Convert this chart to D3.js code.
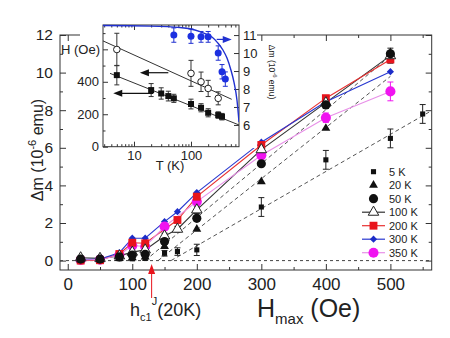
<!DOCTYPE html>
<html><head><meta charset="utf-8">
<script src="https://cdn.jsdelivr.net/npm/d3@7/dist/d3.min.js"></script>
<style>
body{margin:0;background:#fff}
svg{display:block}
text{font-family:"Liberation Sans",Arial,sans-serif;fill:#222}
</style>
</head><body>
<svg id="c" width="450" height="338"></svg>
<script>
// ---------- data (main panel) ----------
const Hmax = [20, 50, 80, 100, 120, 150, 170, 200, 300, 400, 500, 550];
const seriesNames = ["5 K", "20 K", "50 K", "100 K", "200 K", "300 K", "350 K"];
const dm5K   = [0.05, 0.05, 0.10, 0.10, 0.12, 0.39, 0.48, 0.57, 2.85, 5.36, 6.50, 7.80];
const dm20K  = [0.05, 0.05, 0.12, 0.15, 0.20, 0.75, null, 1.67, 4.20, 7.04, 11.06, null];
const dm50K  = [0.08, 0.08, 0.20, 0.30, 0.34, 1.01, null, 2.25, 5.15, 8.28, 11.00, null];
const dm100K = [0.15, 0.12, 0.25, 0.45, 0.57, 1.31, 1.67, 2.70, 5.90, 8.40, 10.90, null];
const dm200K = [0.00, 0.02, 0.35, 0.95, 0.92, null, 2.16, 3.40, 6.15, 8.64, 10.70, null];
const dm300K = [0.05, 0.08, 0.42, 1.19, 1.19, 2.07, 2.60, 3.62, 6.30, 8.45, 10.05, null];
const dm350K = [0.03, 0.05, 0.30, 0.80, 0.75, 1.81, null, 3.14, 5.60, 7.60, 9.00, null];
const err5K   = [0.10, 0.10, 0.10, 0.10, 0.10, 0.15, 0.20, 0.30, 0.50, 0.50, 0.50, 0.50];
const err350K = [0.10, 0.10, 0.10, 0.10, 0.10, 0.10, 0, 0.15, 0.20, 0.25, 0.50, 0];
const err100K = [0.10, 0.10, 0.10, 0.10, 0.15, 0.15, 0.15, 0.20, 0.25, 0.30, 0.40, 0];
const xTicks = [0, 100, 200, 300, 400, 500];
const xMinor = [50, 150, 250, 350, 450, 550];
const yTicks = [0, 2, 4, 6, 8, 10, 12];
const yMinor = [1, 3, 5, 7, 9, 11];
// dashed linear guides: start field (Δm = 0), end field, end Δm
const fitStartH = [160, 140, 120];
const fitEndH   = [560, 500, 490];
const fitEndDm  = [7.9, 9.8, 10.6];
const hc1J20K = 130;

// ---------- data (inset) ----------
const insT_open = [5, 100, 150, 200, 300];
const insH_open = [599, 452, 400, 359, 298];
const insE_open = [100, 80, 60, 50, 40];
const insT_sq = [5, 20, 30, 40, 50, 100, 150, 200, 300, 350];
const insH_sq = [441, 349, 328, 312, 298, 263, 240, 209, 195, 185];
const insE_sq = [60, 40, 35, 30, 25, 30, 25, 25, 20, 20];
const insT_blue = [50, 100, 150, 200, 300, 350, 400];
const insDm_blue = [11.0, 10.94, 10.9, 10.9, 10.0, 8.96, 8.55];
const insE_blue = [0.4, 0.4, 0.3, 0.3, 0.4, 0.4, 0.4];
const fitUpperT = [2.86, 518], fitUpperH = [652, 292];
const fitLowerT = [3.8, 695],  fitLowerH = [452, 134];
const curveT  = [2.86, 19, 64, 117, 176, 233, 297, 363, 428, 501, 566, 640, 695];
const curveDm = [11.53, 11.5, 11.42, 11.28, 11.08, 10.89, 10.55, 10.17, 9.72, 9.06, 8.39, 7.39, 6.17];
const insXTicks = [10, 100];
const insXMinor = [3,4,5,6,7,8,9,20,30,40,50,60,70,80,90,200,300,400,500,600];
const insLTicks = [0, 200, 400, 600];
const insLMinor = [100, 300, 500, 700];
const insRTicks = [6, 7, 8, 9, 10, 11];

// ---------- styles ----------
const style = {
  "5 K":   {sym: d3.symbolSquare,   size: 26, fill: "#111", stroke: "none", line: null},
  "20 K":  {sym: d3.symbolTriangle, size: 34, fill: "#111", stroke: "none", line: null},
  "50 K":  {sym: d3.symbolCircle,   size: 66, fill: "#111", stroke: "none", line: null},
  "100 K": {sym: d3.symbolTriangle, size: 48, fill: "#fff", stroke: "#222", line: "#333"},
  "200 K": {sym: d3.symbolSquare,   size: 62, fill: "#e8141c", stroke: "none", line: "#e83030"},
  "300 K": {sym: d3.symbolSquare,   size: 26, fill: "#1c2cc8", stroke: "none", line: "#2838d0", rot: 45},
  "350 K": {sym: d3.symbolCircle,   size: 80, fill: "#f014f0", stroke: "none", line: "#e890e8"}
};
const values = {"5 K": dm5K, "20 K": dm20K, "50 K": dm50K, "100 K": dm100K, "200 K": dm200K, "300 K": dm300K, "350 K": dm350K};
const errs = {"5 K": err5K, "100 K": err100K, "350 K": err350K};

const FONT = '"Liberation Sans",Arial,sans-serif';
const svg = d3.select("#c");
const x = d3.scaleLinear().domain([-12, 564]).range([60, 431.7]);
const y = d3.scaleLinear().domain([-0.5, 12]).range([270, 35]);
const X0 = x.range()[0], X1 = x.range()[1], Y0 = y.range()[0], Y1 = y.range()[1];

function styleAxis(g, fs) {
  g.select(".domain").remove();
  g.attr("font-family", FONT).attr("font-size", fs).attr("color", "#222");
  g.selectAll("line").attr("stroke", "#333");
}
// main axes
svg.append("g").attr("transform", `translate(0,${Y0})`)
  .call(d3.axisBottom(x).tickValues(xTicks).tickSize(-6).tickPadding(8).tickFormat(d3.format("d"))).call(g => styleAxis(g, 17));
svg.append("g").attr("transform", `translate(0,${Y0})`)
  .call(d3.axisBottom(x).tickValues(xMinor).tickSize(-3).tickFormat("")).call(g => styleAxis(g, 10));
svg.append("g").attr("transform", `translate(0,${Y1})`)
  .call(d3.axisTop(x).tickValues(xTicks).tickSize(-6).tickFormat("")).call(g => styleAxis(g, 10));
svg.append("g").attr("transform", `translate(0,${Y1})`)
  .call(d3.axisTop(x).tickValues(xMinor).tickSize(-3).tickFormat("")).call(g => styleAxis(g, 10));
svg.append("g").attr("transform", `translate(${X0},0)`)
  .call(d3.axisLeft(y).tickValues(yTicks).tickSize(-6).tickPadding(7).tickFormat(d3.format("d"))).call(g => styleAxis(g, 15.5));
svg.append("g").attr("transform", `translate(${X0},0)`)
  .call(d3.axisLeft(y).tickValues(yMinor).tickSize(-3).tickFormat("")).call(g => styleAxis(g, 10));
svg.append("g").attr("transform", `translate(${X1},0)`)
  .call(d3.axisRight(y).tickValues(yTicks).tickSize(-6).tickFormat("")).call(g => styleAxis(g, 10));
svg.append("g").attr("transform", `translate(${X1},0)`)
  .call(d3.axisRight(y).tickValues(yMinor).tickSize(-3).tickFormat("")).call(g => styleAxis(g, 10));
svg.append("rect").attr("x", X0).attr("y", Y1).attr("width", X1 - X0).attr("height", Y0 - Y1)
  .attr("fill", "none").attr("stroke", "#333").attr("stroke-width", 1);

const plot = svg.append("g");
// zero line
plot.append("line").attr("x1", X0).attr("x2", X1).attr("y1", y(0)).attr("y2", y(0))
  .attr("stroke", "#444").attr("stroke-dasharray", "3,3");
// dashed guides
fitStartH.forEach((h0, i) => {
  plot.append("line").attr("x1", x(h0)).attr("y1", y(0)).attr("x2", x(fitEndH[i])).attr("y2", y(fitEndDm[i]))
    .attr("stroke", "#555").attr("stroke-width", 1).attr("stroke-dasharray", "4,3");
});
// series lines
const pts = name => Hmax.map((h, i) => ({h, v: values[name][i], e: errs[name] ? errs[name][i] : 0})).filter(d => d.v != null);
const lineGen = d3.line().x(d => x(d.h)).y(d => y(d.v));
seriesNames.forEach(name => {
  const s = style[name];
  if (!s.line) return;
  plot.append("path").datum(pts(name)).attr("d", lineGen).attr("fill", "none")
    .attr("stroke", s.line).attr("stroke-width", 1.1);
});
// error bars
seriesNames.forEach(name => {
  if (!errs[name]) return;
  const col = name === "350 K" ? style[name].fill : "#222";
  pts(name).filter(d => d.e > 0).forEach(d => {
    const g = plot.append("g").attr("stroke", col).attr("stroke-width", 1);
    g.append("line").attr("x1", x(d.h)).attr("x2", x(d.h)).attr("y1", y(d.v - d.e)).attr("y2", y(d.v + d.e));
    [d.v - d.e, d.v + d.e].forEach(v => g.append("line").attr("x1", x(d.h) - 3).attr("x2", x(d.h) + 3).attr("y1", y(v)).attr("y2", y(v)));
  });
});
// markers
const drawOrder = ["300 K", "350 K", "200 K", "100 K", "50 K", "20 K", "5 K"];
function marker(g, s, cx, cy) {
  g.append("path").attr("d", d3.symbol().type(s.sym).size(s.size)())
    .attr("transform", `translate(${cx},${cy})` + (s.rot ? ` rotate(${s.rot})` : ""))
    .attr("fill", s.fill).attr("stroke", s.stroke).attr("stroke-width", 1);
}
drawOrder.forEach(name => {
  const s = style[name];
  pts(name).forEach(d => marker(plot, s, x(d.h), y(d.v)));
});

// legend
const leg = svg.append("g");
seriesNames.forEach((name, i) => {
  const s = style[name];
  const ly = 171.7 + i * 13.5;
  if (s.line) leg.append("line").attr("x1", 362).attr("x2", 385).attr("y1", ly).attr("y2", ly).attr("stroke", s.line).attr("stroke-width", 1.2);
  marker(leg, s, 373.5, ly);
  leg.append("text").attr("x", 389).attr("y", ly).attr("dy", "0.36em").attr("font-size", 11).text(name);
});

// red arrow h_c1
const ax = x(hc1J20K);
svg.append("line").attr("x1", ax).attr("x2", ax).attr("y1", 298).attr("y2", 272).attr("stroke", "#e8141c").attr("stroke-width", 1);
svg.append("path").attr("d", `M${ax},264 L${ax - 3.5},274 L${ax + 3.5},274 Z`).attr("fill", "#e8141c");

// axis titles
const yl = svg.append("text").attr("transform", "translate(43,150) rotate(-90)").attr("text-anchor", "middle").attr("font-size", 16);
yl.append("tspan").text("Δm (10");
yl.append("tspan").attr("font-size", 11).attr("dy", -7).text("-6");
yl.append("tspan").attr("dy", 7).text(" emu)");
const xl = svg.append("text").attr("x", 257).attr("y", 317).attr("font-size", 25);
xl.append("tspan").text("H");
xl.append("tspan").attr("font-size", 15).attr("dy", 7).text("max");
xl.append("tspan").attr("dy", -7).text(" (Oe)");
const hl = svg.append("text").attr("x", 130).attr("y", 316).attr("font-size", 18);
hl.append("tspan").text("h");
hl.append("tspan").attr("font-size", 11).attr("dy", 5).text("c1");
hl.append("tspan").attr("font-size", 11).attr("dy", -16).text("J");
hl.append("tspan").attr("dy", 11).text("(20K)");

// ---------- inset ----------
const ix = d3.scaleLog().domain([2.86, 695]).range([103, 239]);
const iyL = d3.scaleLinear().domain([0, 750]).range([146.7, 25]);
const iyR = d3.scaleLinear().domain([4.79, 11.56]).range([146.7, 25]);
const IX0 = 103, IX1 = 239, IY0 = 146.7, IY1 = 25;
const ins = svg.append("g");
ins.append("rect").attr("x", 80).attr("y", 22).attr("width", 177).attr("height", 126).attr("fill", "#fff");
ins.append("g").attr("transform", `translate(0,${IY0})`)
  .call(d3.axisBottom(ix).tickValues(insXTicks).tickSize(-5).tickPadding(4).tickFormat(d3.format("d"))).call(g => styleAxis(g, 13));
ins.append("g").attr("transform", `translate(0,${IY0})`)
  .call(d3.axisBottom(ix).tickValues(insXMinor).tickSize(-2.5).tickFormat("")).call(g => styleAxis(g, 10));
ins.append("g").attr("transform", `translate(0,${IY1})`)
  .call(d3.axisTop(ix).tickValues(insXTicks).tickSize(-5).tickFormat("")).call(g => styleAxis(g, 10));
ins.append("g").attr("transform", `translate(0,${IY1})`)
  .call(d3.axisTop(ix).tickValues(insXMinor).tickSize(-2.5).tickFormat("")).call(g => styleAxis(g, 10));
ins.append("g").attr("transform", `translate(${IX0},0)`)
  .call(d3.axisLeft(iyL).tickValues(insLTicks).tickSize(-5).tickPadding(4).tickFormat(d => d === 600 ? "" : d)).call(g => styleAxis(g, 13));
ins.append("g").attr("transform", `translate(${IX0},0)`)
  .call(d3.axisLeft(iyL).tickValues(insLMinor).tickSize(-2.5).tickFormat("")).call(g => styleAxis(g, 10));
ins.append("g").attr("transform", `translate(${IX1},0)`)
  .call(d3.axisRight(iyR).tickValues(insRTicks).tickSize(-5).tickPadding(4).tickFormat(d3.format("d"))).call(g => styleAxis(g, 13));
ins.append("rect").attr("x", IX0).attr("y", IY1).attr("width", IX1 - IX0).attr("height", IY0 - IY1)
  .attr("fill", "none").attr("stroke", "#333").attr("stroke-width", 1);
ins.append("text").attr("x", 100).attr("y", iyL(600)).attr("dy", "0.35em").attr("text-anchor", "end").attr("font-size", 13).text("H (Oe)");
ins.append("text").attr("x", 170).attr("y", 170).attr("text-anchor", "middle").attr("font-size", 13).text("T (K)");
const rl = ins.append("text").attr("transform", "translate(269,72) rotate(90)").attr("text-anchor", "middle").attr("font-size", 8.5);
rl.append("tspan").text("Δm (10");
rl.append("tspan").attr("font-size", 6).attr("dy", -3.5).text("-6");
rl.append("tspan").attr("dy", 3.5).text(" emu)");

ins.append("clipPath").attr("id", "iclip").append("rect").attr("x", IX0).attr("y", IY1 - 1).attr("width", IX1 - IX0).attr("height", IY0 - IY1 + 1);
const ip = ins.append("g").attr("clip-path", "url(#iclip)");
// fit lines
ip.append("line").attr("x1", ix(fitUpperT[0])).attr("y1", iyL(fitUpperH[0])).attr("x2", ix(fitUpperT[1])).attr("y2", iyL(fitUpperH[1])).attr("stroke", "#333").attr("stroke-width", 1);
ip.append("line").attr("x1", ix(fitLowerT[0])).attr("y1", iyL(fitLowerH[0])).attr("x2", ix(fitLowerT[1])).attr("y2", iyL(fitLowerH[1])).attr("stroke", "#333").attr("stroke-width", 1);
// blue curve
ip.append("path").datum(curveT.map((t, i) => [t, curveDm[i]]))
  .attr("d", d3.line().x(d => ix(d[0])).y(d => iyR(d[1])).curve(d3.curveMonotoneX))
  .attr("fill", "none").attr("stroke", "#2030d0").attr("stroke-width", 1.4);
function ebar(g, cx, ylo, yhi, col) {
  const e = g.append("g").attr("stroke", col).attr("stroke-width", 1);
  e.append("line").attr("x1", cx).attr("x2", cx).attr("y1", ylo).attr("y2", yhi);
  [ylo, yhi].forEach(v => e.append("line").attr("x1", cx - 2.5).attr("x2", cx + 2.5).attr("y1", v).attr("y2", v));
}
insT_open.forEach((t, i) => ebar(ins, ix(t), iyL(insH_open[i] - insE_open[i]), iyL(insH_open[i] + insE_open[i]), "#333"));
insT_sq.forEach((t, i) => ebar(ins, ix(t), iyL(insH_sq[i] - insE_sq[i]), iyL(insH_sq[i] + insE_sq[i]), "#333"));
insT_blue.forEach((t, i) => ebar(ins, ix(t), iyR(insDm_blue[i] - insE_blue[i]), iyR(insDm_blue[i] + insE_blue[i]), "#2030d0"));
insT_open.forEach((t, i) => ins.append("circle").attr("cx", ix(t)).attr("cy", iyL(insH_open[i])).attr("r", 3.3).attr("fill", "#fff").attr("stroke", "#222").attr("stroke-width", 1));
insT_sq.forEach((t, i) => ins.append("path").attr("d", d3.symbol().type(d3.symbolSquare).size(36)()).attr("transform", `translate(${ix(t)},${iyL(insH_sq[i])})`).attr("fill", "#111"));
insT_blue.forEach((t, i) => ins.append("circle").attr("cx", ix(t)).attr("cy", iyR(insDm_blue[i])).attr("r", 3.5).attr("fill", "#1c30e0"));
// arrows
function arrow(g, x1, x2, yy, col) {
  const dir = Math.sign(x2 - x1);
  g.append("line").attr("x1", x1).attr("x2", x2 - dir * 7).attr("y1", yy).attr("y2", yy).attr("stroke", col).attr("stroke-width", 1.2);
  g.append("path").attr("d", `M${x2},${yy} L${x2 - dir * 9},${yy - 3.5} L${x2 - dir * 9},${yy + 3.5} Z`).attr("fill", col);
}
arrow(ins, ix(40), ix(12.7), iyL(456), "#111");
arrow(ins, ix(21.8), ix(4.33), iyL(329), "#111");
arrow(ins, ix(282), ix(518), iyR(10.76), "#2030d0");
</script>
</body></html>
